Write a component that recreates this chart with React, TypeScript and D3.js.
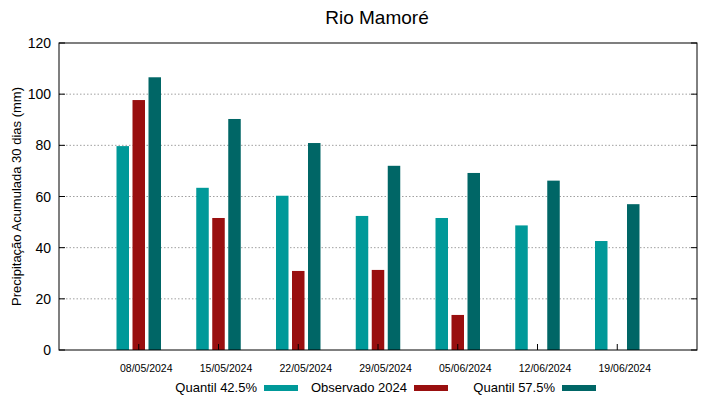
import * as d3 from "d3";

const categories = ["08/05/2024", "15/05/2024", "22/05/2024", "29/05/2024", "05/06/2024", "12/06/2024", "19/06/2024"];
const quantil425 = [79.7, 63.4, 60.3, 52.4, 51.6, 48.7, 42.6];
const observado2024: (number | null)[] = [97.7, 51.6, 30.9, 31.3, 13.7, null, null];
const quantil575 = [106.6, 90.3, 80.9, 72.0, 69.2, 66.2, 57.0];
const yTicks = [0, 20, 40, 60, 80, 100, 120];

const series = [
  { label: "Quantil 42.5%", values: quantil425, color: "#009999", offset: -1 },
  { label: "Observado 2024", values: observado2024, color: "#990f0f", offset: 0 },
  { label: "Quantil 57.5%", values: quantil575, color: "#006666", offset: 1 },
];

export default function App() {
  const W = 719;
  const H = 399;
  const m = { left: 59, right: 697, top: 43, bottom: 350 };
  const font = "'Liberation Sans', Arial, sans-serif";

  const x = d3.scaleLinear().domain([0, categories.length + 1]).range([m.left, m.right]);
  const y = d3.scaleLinear().domain([0, 120]).range([m.bottom, m.top]);
  const barW = 12.5;
  const gap = 16;

  // legend: text end x and swatch start x
  const legendItems = [
    { tx: 257, sx: 264 },
    { tx: 407, sx: 414 },
    { tx: 555, sx: 562 },
  ];

  return (
    <svg width={W} height={H} style={{ position: "absolute", left: 0, top: 0, background: "#fff" }} fontFamily={font}>
      <text x={377} y={24} textAnchor="middle" fontSize={19} fill="#000">
        Rio Mamoré
      </text>

      {/* grid */}
      {yTicks.filter((t) => t > 0 && t < 120).map((t) => (
        <line key={t} x1={m.left} x2={m.right} y1={y(t)} y2={y(t)} stroke="#a0a0a0" strokeWidth={1} strokeDasharray="1.5,2" />
      ))}

      {/* bars */}
      {series.map((s) =>
        s.values.map((v, i) =>
          v == null ? null : (
            <rect
              key={s.label + i}
              x={x(i + 1) + s.offset * gap - barW / 2}
              y={y(v)}
              width={barW}
              height={y(0) - y(v)}
              fill={s.color}
            />
          )
        )
      )}

      {/* frame */}
      <rect x={m.left} y={m.top} width={m.right - m.left} height={m.bottom - m.top} fill="none" stroke="#000" strokeWidth={1} />

      {/* y ticks */}
      {yTicks.map((t) => (
        <g key={t}>
          <line x1={m.left} x2={m.left + 6} y1={y(t)} y2={y(t)} stroke="#000" />
          <line x1={m.right} x2={m.right - 6} y1={y(t)} y2={y(t)} stroke="#000" />
          <text x={m.left - 8} y={y(t) + 5} textAnchor="end" fontSize={14} fill="#000">
            {t}
          </text>
        </g>
      ))}

      {/* x ticks */}
      {categories.map((c, i) => (
        <g key={c}>
          <line x1={x(i + 1)} x2={x(i + 1)} y1={m.bottom} y2={m.bottom - 6} stroke="#000" />
          <text x={x(i + 1) + 7.5} y={371.5} textAnchor="middle" fontSize={10.5} fill="#000">
            {c}
          </text>
        </g>
      ))}

      <text transform={`translate(21,${(m.top + m.bottom) / 2}) rotate(-90)`} textAnchor="middle" fontSize={13} fill="#000">
        Precipitação Acumulada 30 dias (mm)
      </text>

      {/* legend */}
      {series.map((s, i) => (
        <g key={s.label}>
          <text x={legendItems[i].tx} y={392} textAnchor="end" fontSize={13} fill="#000">
            {s.label}
          </text>
          <rect x={legendItems[i].sx} y={385} width={34} height={6} fill={s.color} />
        </g>
      ))}
    </svg>
  );
}
